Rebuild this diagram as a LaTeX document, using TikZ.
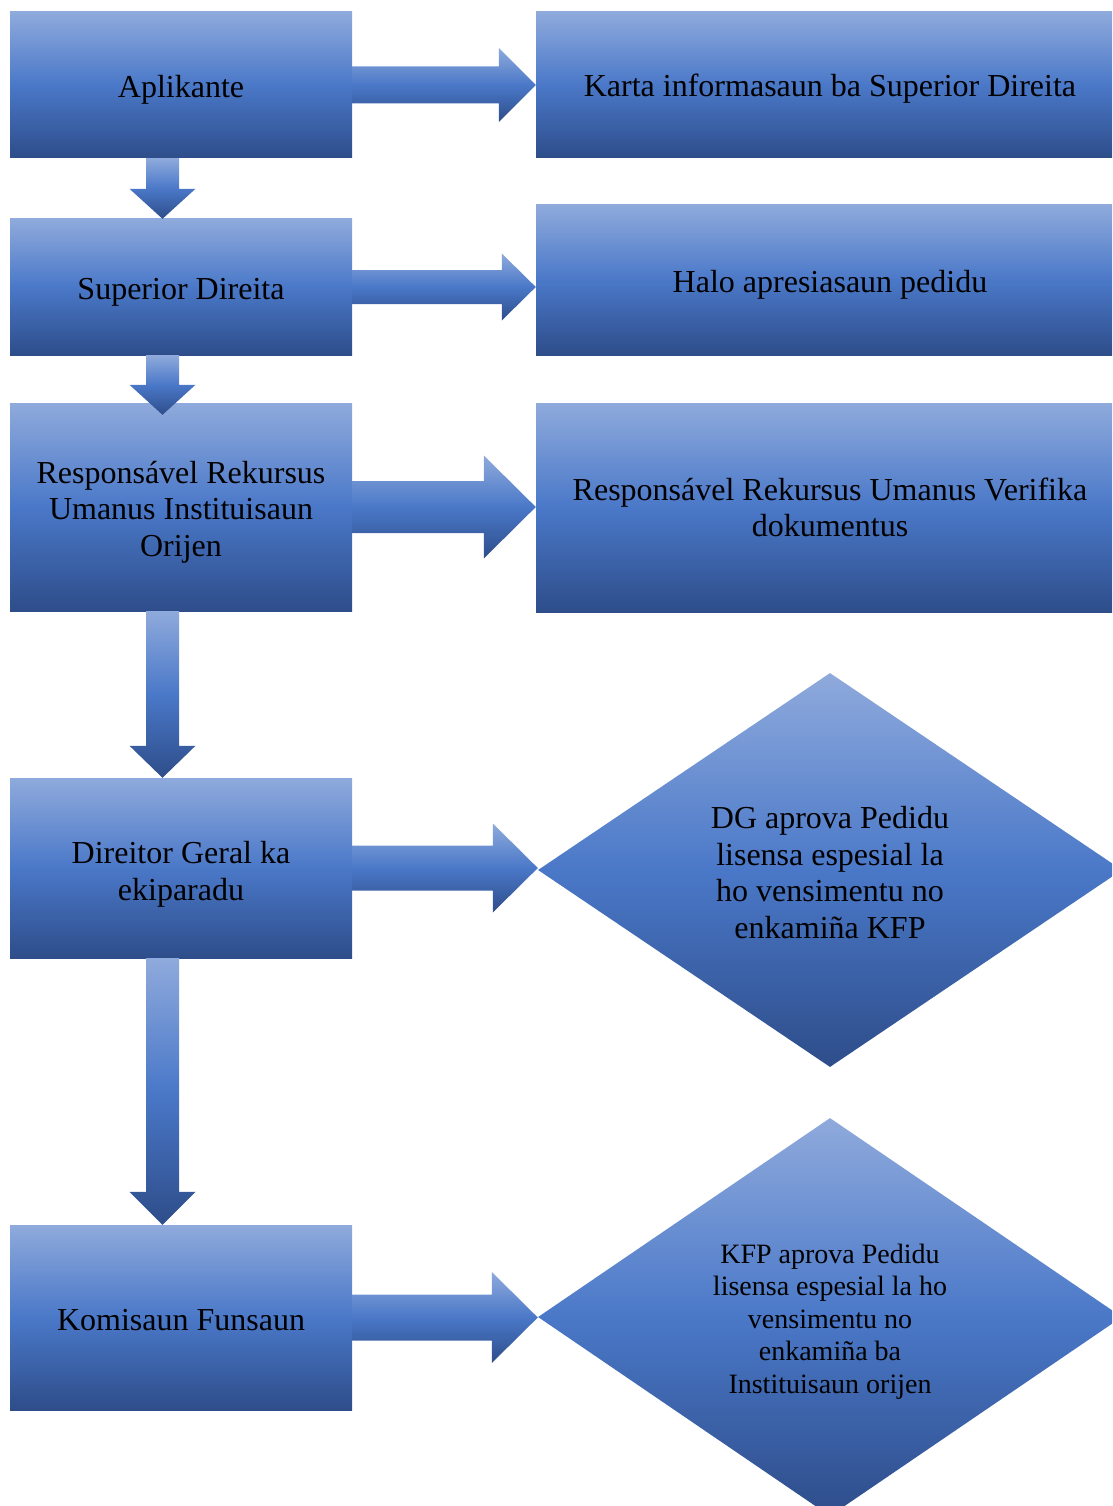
\documentclass[tikz,border=0pt]{standalone}
\usepackage{fontspec}
\setmainfont{Liberation Serif}
\usetikzlibrary{calc,shapes.geometric}
\definecolor{gtop}{HTML}{8FAADC}
\definecolor{gmid}{HTML}{4A78C8}
\definecolor{gbot}{HTML}{2E4D8A}
\tikzset{
  gradfill/.style={top color=gtop, bottom color=gbot, middle color=gmid},
  box/.style={rectangle, inner sep=0pt, gradfill, align=center,
    font=\fontsize{32}{36.5}\selectfont, text=black},
  dmd/.style={diamond, inner sep=0pt, gradfill, align=center, text=black,
    minimum width=584pt},
  arrowshade/.style={gradfill}
}
\newcommand\mystrut[1]{\rule{0pt}{#1}}
\newcommand\myharr[5]{% #1 from, #2 to, #3 shaft half, #4 head half, #5 head length
  \shade[arrowshade] ($(#1.east)+(0,-#3)$) -- ($(#2.west|-#1.east)+(-#5,-#3)$)
    -- ($(#2.west|-#1.east)+(-#5,-#4)$) -- (#2.west|-#1.east)
    -- ($(#2.west|-#1.east)+(-#5,#4)$) -- ($(#2.west|-#1.east)+(-#5,#3)$)
    -- ($(#1.east)+(0,#3)$) -- cycle;}
\newcommand\myvarr[4]{% #1 from, #2 to, #3 overlap, #4 head length
  \coordinate (tip-#1) at ($(#1.south|-#2.north)+(-18.5,#3)$);
  \shade[arrowshade] ($(#1.south)+(-35,0)$) -- ($(tip-#1)+(-16.5,-#4)$)
    -- ($(tip-#1)+(-33,-#4)$) -- (tip-#1) -- ($(tip-#1)+(33,-#4)$)
    -- ($(tip-#1)+(16.5,-#4)$) -- ($(#1.south)+(-2,0)$) -- cycle;}
\begin{document}
\begin{tikzpicture}[x=1pt,y=-1pt]
\useasboundingbox (0,0) rectangle (1112,1506);
\clip (0,0) rectangle (1112,1506);
% left column
\node[box, minimum width=342pt, minimum height=146pt] (a) at (181,85) {\mystrut{32pt}Aplikante};
\node[box, minimum width=342pt, minimum height=136pt] (b) at (181,287) {\mystrut{32pt}Superior Direita};
\node[box, minimum width=342pt, minimum height=208pt] (c) at (181,507) {\mystrut{32pt}Responsável Rekursus\\Umanus Instituisaun\\Orijen};
\node[box, minimum width=342pt, minimum height=180pt] (d) at (181,868) {\mystrut{35pt}Direitor Geral ka\\ekiparadu};
\node[box, minimum width=342pt, minimum height=185pt] (e) at (181,1317.5) {\mystrut{27pt}Komisaun Funsaun};
% right column
\node[box, minimum width=588pt, minimum height=146pt] (k) at (830,85) {\mystrut{30pt}Karta informasaun ba Superior Direita};
\node[box, minimum width=588pt, minimum height=150pt] (h) at (830,280) {\mystrut{32pt}Halo apresiasaun pedidu};
\node[box, minimum width=588pt, minimum height=209pt] (r) at (830,507.5) {Responsável Rekursus Umanus Verifika\\dokumentus};
\node[dmd, minimum height=394pt, font=\fontsize{32}{36.5}\selectfont] (p) at (830,870)
  {\mystrut{27pt}DG aprova Pedidu\\lisensa espesial la\\ho vensimentu no\\enkamiña KFP};
\node[dmd, minimum height=396pt, font=\fontsize{28}{32.5}\selectfont] (q) at (830,1317)
  {\mystrut{28pt}KFP aprova Pedidu\\lisensa espesial la ho\\vensimentu no\\enkamiña ba\\Instituisaun orijen};
% horizontal arrows
\myharr{a}{k}{18.5}{37}{37}
\myharr{b}{h}{17}{33.5}{34}
\myharr{c}{r}{26}{51.5}{52}
\myharr{d}{p}{22.5}{44.5}{45}
\myharr{e}{q}{23}{45.5}{46}
% vertical arrows
\myvarr{a}{b}{0}{30}
\myvarr{b}{c}{12}{30}
\myvarr{c}{d}{0}{32}
\myvarr{d}{e}{0}{33}
\end{tikzpicture}
\end{document}
